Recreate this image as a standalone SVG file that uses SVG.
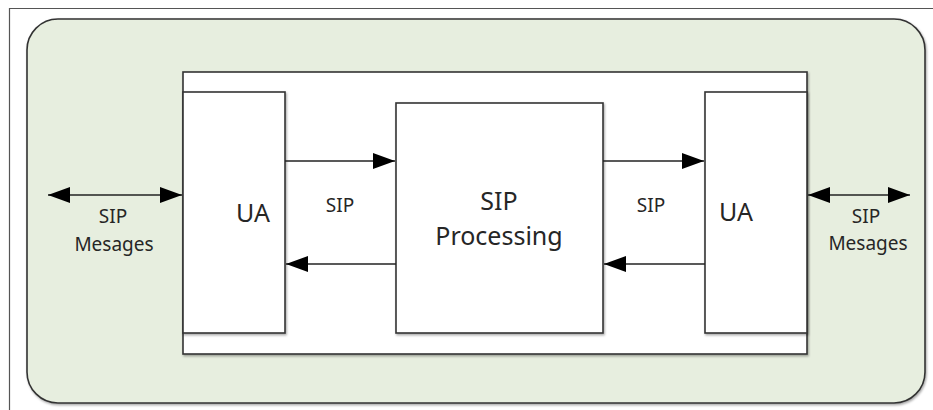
<svg xmlns="http://www.w3.org/2000/svg" width="933" height="410" viewBox="0 0 933 410">
<style>
.box{fill:#ffffff;stroke:#333333;stroke-width:1.6;filter:url(#sh)}
.cn{stroke:#222222;stroke-width:1.6;fill:none}
.lbl{font-family:"Noto Sans","Open Sans",sans-serif;font-size:19px;fill:#262626;text-anchor:middle}
.big{font-family:"Noto Sans","Open Sans",sans-serif;font-size:25px;fill:#262626;text-anchor:middle}
</style>
<defs>
<filter id="sh" x="-5%" y="-5%" width="110%" height="110%">
<feDropShadow dx="1" dy="1.5" stdDeviation="0.8" flood-color="#000000" flood-opacity="0.35"/>
</filter>
<marker id="ah" markerUnits="userSpaceOnUse" markerWidth="22" markerHeight="16" refX="22" refY="8" orient="auto-start-reverse">
<path d="M0,0 L22,8 L0,16 Z" fill="#000000"/>
</marker>
</defs>
<rect width="933" height="410" fill="#ffffff"/>
<path d="M9.5,410 V8.5 H933" fill="none" stroke="#555555" stroke-width="1.2"/>
<g id="container">
<rect x="27" y="19" width="898" height="384" rx="31" ry="31" fill="#e7eedf" stroke="#333333" stroke-width="1.6" filter="url(#sh)"/>
</g>
<g id="inner">
<rect class="box" x="183" y="72" width="624" height="282"/>
</g>
<g id="ua-left">
<rect class="box" x="183" y="92" width="102" height="241"/>
<text class="big" x="253" y="222">UA</text>
</g>
<g id="sip-processing">
<rect class="box" x="396" y="103" width="207" height="230"/>
<text class="big" x="499" y="210">SIP</text>
<text class="big" x="499" y="245">Processing</text>
</g>
<g id="ua-right">
<rect class="box" x="705" y="92" width="102" height="241"/>
<text class="big" x="736" y="221">UA</text>
</g>
<g id="connectors">
<line class="cn" x1="48" y1="195" x2="182" y2="195" marker-start="url(#ah)" marker-end="url(#ah)"/>
<line class="cn" x1="285" y1="161" x2="395" y2="161" marker-end="url(#ah)"/>
<line class="cn" x1="396" y1="264" x2="286" y2="264" marker-end="url(#ah)"/>
<line class="cn" x1="603" y1="161" x2="704" y2="161" marker-end="url(#ah)"/>
<line class="cn" x1="705" y1="264" x2="604" y2="264" marker-end="url(#ah)"/>
<line class="cn" x1="808" y1="195" x2="910" y2="195" marker-start="url(#ah)" marker-end="url(#ah)"/>
</g>
<g id="labels">
<text class="lbl" x="113" y="223">SIP</text>
<text class="lbl" x="114" y="251">Mesages</text>
<text class="lbl" x="340" y="212">SIP</text>
<text class="lbl" x="651" y="212">SIP</text>
<text class="lbl" x="866" y="223">SIP</text>
<text class="lbl" x="868" y="250">Mesages</text>
</g>
</svg>
